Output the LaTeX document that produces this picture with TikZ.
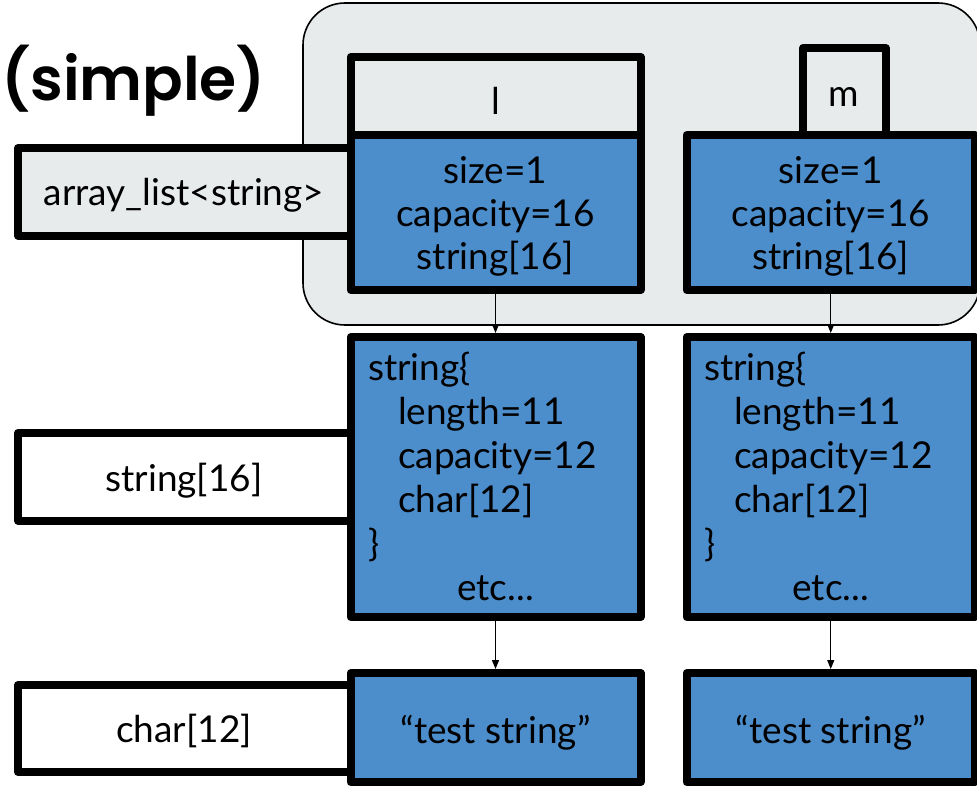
\documentclass[tikz,border=0pt]{standalone}
\usepackage{fontspec}
\setmainfont{Lato}
\newfontfamily\titlefont{Poppins SemiBold}
\usetikzlibrary{arrows.meta}
\definecolor{boxblue}{HTML}{4C8DCB}
\definecolor{boxgray}{HTML}{E8EBEC}
\begin{document}
\begin{tikzpicture}[x=1pt,y=-1pt,
  box/.style={draw=black,line width=8pt,line join=round,inner sep=0pt,outer sep=0pt},
  bluebox/.style={box,fill=boxblue},
  graybox/.style={box,fill=boxgray},
  whitebox/.style={box,fill=white},
  container/.style={draw=black,line width=1.6pt,fill=boxgray,rounded corners=42pt,inner sep=0pt,outer sep=0pt},
  txt/.style={font=\fontsize{37}{43}\selectfont,inner sep=0pt,outer sep=0pt},
  arr/.style={line width=1.3pt,-{Triangle[length=9pt,width=7pt]},shorten <=4pt,shorten >=4pt}]
\useasboundingbox (0,0) rectangle (977,787);
% container
\node[container,minimum width=677pt,minimum height=322pt] (cont) at (641.5,164) {};
% top row
\node[graybox,minimum width=290pt,minimum height=78pt] (lbox) at (495.5,96) {};
\node[graybox,minimum width=82.5pt,minimum height=87pt] (mbox) at (844.25,91.5) {};
\node[graybox,minimum width=332.5pt,minimum height=87.5pt] (arrl) at (184.25,191.75) {};
\node[bluebox,minimum width=290pt,minimum height=155pt] (b1) at (495.5,212.5) {};
\node[bluebox,minimum width=288.5pt,minimum height=155pt] (b2) at (830.75,212.5) {};
% middle row
\node[whitebox,minimum width=332.5pt,minimum height=87.5pt] (lab16) at (184.25,476.75) {};
\node[bluebox,minimum width=290pt,minimum height=280pt] (s1) at (495.5,477) {};
\node[bluebox,minimum width=288.5pt,minimum height=280pt] (s2) at (830.75,477) {};
% bottom row
\node[whitebox,minimum width=332.5pt,minimum height=87pt] (lab12) at (184.25,728.5) {};
\node[bluebox,minimum width=290pt,minimum height=109pt] (c1) at (495.5,727.5) {};
\node[bluebox,minimum width=288.5pt,minimum height=109pt] (c2) at (830.75,727.5) {};
% title
\node[anchor=base west,inner sep=0pt,font=\titlefont\fontsize{60}{60}\selectfont] (title) at (1,100) {(simple)};
% labels
\node[txt,anchor=base] (tl) at (495.5,114) {l};
\node[txt,anchor=base] (tm) at (844,106) {m};
\node[txt,anchor=base] (tarrl) at (184,205) {array\_list<string>};
\node[txt,anchor=base] (tlab16) at (184,491) {string[16]};
\node[txt,anchor=base] (tlab12) at (184,742) {char[12]};
% blue top boxes
\node[txt,anchor=base] (b1a) at (495.5,183) {size=1};
\node[txt,anchor=base] (b1b) at (495.5,226) {capacity=16};
\node[txt,anchor=base] (b1c) at (495.5,269) {string[16]};
\node[txt,anchor=base] (b2a) at (830.75,183) {size=1};
\node[txt,anchor=base] (b2b) at (830.75,226) {capacity=16};
\node[txt,anchor=base] (b2c) at (830.75,269) {string[16]};
% string boxes
\node[txt,anchor=base west] (s1a) at (368,380) {string\{};
\node[txt,anchor=base west] (s1b) at (398,424) {length=11};
\node[txt,anchor=base west] (s1c) at (398,468) {capacity=12};
\node[txt,anchor=base west] (s1d) at (398,512) {char[12]};
\node[txt,anchor=base west] (s1e) at (368,556) {\}};
\node[txt,anchor=base] (s1f) at (495.5,600) {etc...};
\node[txt,anchor=base west] (s2a) at (704,380) {string\{};
\node[txt,anchor=base west] (s2b) at (734,424) {length=11};
\node[txt,anchor=base west] (s2c) at (734,468) {capacity=12};
\node[txt,anchor=base west] (s2d) at (734,512) {char[12]};
\node[txt,anchor=base west] (s2e) at (704,556) {\}};
\node[txt,anchor=base] (s2f) at (830.75,600) {etc...};
% char boxes
\node[txt,anchor=base] (c1t) at (495.5,743) {“test string”};
\node[txt,anchor=base] (c2t) at (830.75,743) {“test string”};
% connectors
\draw[arr] (b1.south) -- (s1.north);
\draw[arr] (b2.south) -- (s2.north);
\draw[arr] (s1.south) -- (c1.north);
\draw[arr] (s2.south) -- (c2.north);
\end{tikzpicture}
\end{document}
